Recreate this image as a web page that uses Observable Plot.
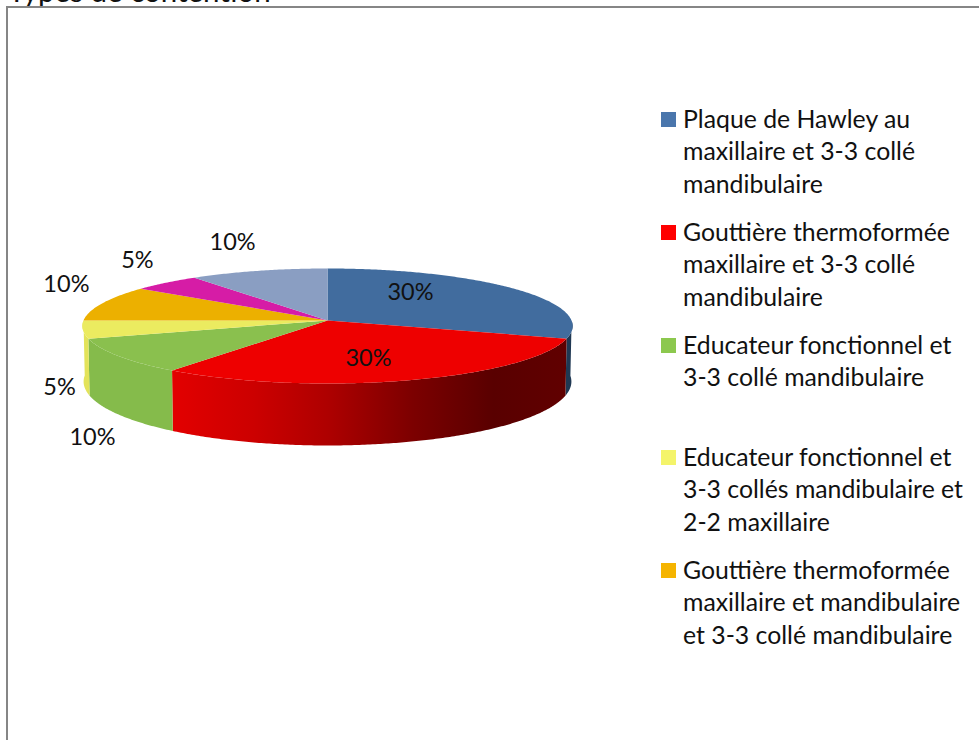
<!DOCTYPE html>
<html lang="fr">
<head>
<meta charset="utf-8">
<script src="https://cdn.jsdelivr.net/npm/d3@7"></script>
<script src="https://cdn.jsdelivr.net/npm/@observablehq/plot@0.6"></script>
<style>
  html, body { margin: 0; padding: 0; background: #fff; overflow: hidden; }
  #page { position: relative; width: 979px; height: 740px; overflow: hidden; font-family: Lato, "Open Sans", sans-serif; color: #111; }
  #chart { position: absolute; left: 0; top: 0; }
  #chart svg { display: block; background: transparent; }
  #frame { position: absolute; left: 6px; top: 6px; width: 1000px; height: 800px; border: 2px solid #868686; }
  #title { position: absolute; left: 8px; top: -26.5px; font-size: 29.5px; line-height: 34px; white-space: nowrap; }
  #legend { position: absolute; left: 0; top: 0; }
  .item { position: absolute; left: 661px; }
  .sw { position: absolute; left: 0; top: 9px; width: 15px; height: 15px; }
  .tx { position: absolute; left: 22px; top: 1px; font-size: 24.8px; line-height: 32.3px; white-space: pre; }
</style>
</head>
<body>
<div id="page">
  <div id="title">Types de contention</div>
  <div id="frame"></div>
  <div id="chart"></div>
  <div id="legend"></div>
</div>
<script>
// ---- data ----
const values = [30, 30, 10, 5, 10, 5, 10];
const percentLabels = ["30%", "30%", "10%", "5%", "10%", "5%", "10%"];
const legendLines = [
  ["Plaque de Hawley au", "maxillaire et 3-3 collé", "mandibulaire"],
  ["Gouttière thermoformée", "maxillaire et 3-3 collé", "mandibulaire"],
  ["Educateur fonctionnel et", "3-3 collé mandibulaire"],
  ["Educateur fonctionnel et", "3-3 collés mandibulaire et", "2-2 maxillaire"],
  ["Gouttière thermoformée", "maxillaire et mandibulaire", "et 3-3 collé mandibulaire"]
];

// ---- styles ----
const topColors = ["#416c9e", "#ee0000", "#8ac04e", "#ebeb60", "#ecb000", "#d61ca6", "#8a9ec2"];
const legendColors = ["#4a76ac", "#ff0000", "#8cc84e", "#f4f46a", "#f5b400"];
const sideColors = ["#1f3853", "url(#redSide)", "#85bb4b", "#e3e35a", "#ecb000", "#d61ca6", "#8a9ec2"];
const redStopsU = [-0.66, -0.3, 0, 0.35, 0.68, 1];
const redStopsColor = ["#e40000", "#cc0000", "#ae0000", "#7c0000", "#590000", "#610000"];
// label anchors in pie units
const labelU = [0.34, 0.168, -0.963, -1.098, -1.07, -0.779, -0.389];
const labelV = [0.49, -0.667, -2.05, -1.175, 0.63, 1.05, 1.37];

// ---- pie geometry (perspective disc extruded downwards) ----
const persp = 0.0957, depth = 0.965, lowerScale = 1.11, lowerX = 0.995;
const total = d3.sum(values);
const ends = d3.cumsum(values);
const projTop = t => {
  const u = Math.sin(t), v = Math.cos(t), d = 1 + persp * v;
  return {x: u / d, y: v / d};
};
const projBottom = t => {
  const p = projTop(t);
  return {x: p.x * lowerX, y: -depth + (p.y < 0 ? p.y * lowerScale : p.y)};
};

const topRows = [], sideRows = values.map(() => []);
values.forEach((val, i) => {
  const a0 = (ends[i] - val) / total * 2 * Math.PI, a1 = ends[i] / total * 2 * Math.PI;
  const n = Math.ceil((a1 - a0) / 0.01);
  const angles = d3.range(n + 1).map(k => a0 + (a1 - a0) * k / n);
  topRows.push({x: 0, y: 0, slice: i});
  angles.forEach(t => topRows.push({...projTop(t), slice: i}));
  const front = angles.filter(t => Math.cos(t) <= 0);
  if (front.length > 1)
    sideRows[i] = [...front.map(projTop), ...front.slice().reverse().map(projBottom)];
});
const labelRows = percentLabels.map((text, i) => ({text, x: labelU[i], y: labelV[i]}));

const chart = Plot.plot({
  width: 979, height: 740,
  margin: 0,
  style: {background: "transparent"},
  x: {axis: null, domain: [-1, 1], range: [83, 571]},
  y: {axis: null, domain: [-1, 1], range: [377, 263]},
  marks: [
    sideRows.map((rows, i) => Plot.line(rows, {x: "x", y: "y", fill: sideColors[i], stroke: "none", curve: "linear"})),
    Plot.line(topRows, {x: "x", y: "y", z: "slice", fill: d => topColors[d.slice], stroke: "none", curve: "linear"}),
    Plot.text(labelRows, {x: "x", y: "y", text: "text", fontSize: 23.5, fontFamily: "Lato, sans-serif", fill: "#111"})
  ]
});
// horizontal shading of the red wall, placed through the chart's x scale
const xScale = chart.scale("x");
const defs = d3.select(chart).insert("defs", ":first-child");
const grad = defs.append("linearGradient").attr("id", "redSide").attr("gradientUnits", "userSpaceOnUse")
  .attr("x1", xScale.apply(redStopsU[0])).attr("x2", xScale.apply(redStopsU[redStopsU.length - 1]))
  .attr("y1", 0).attr("y2", 0);
redStopsU.forEach((u, i) => grad.append("stop")
  .attr("offset", (u - redStopsU[0]) / (redStopsU[redStopsU.length - 1] - redStopsU[0]))
  .attr("stop-color", redStopsColor[i]));
document.getElementById("chart").appendChild(chart);

// ---- legend ----
const legendTops = [102, 215, 328, 440, 553];
const legend = d3.select("#legend");
legendLines.forEach((lines, i) => {
  const item = legend.append("div").attr("class", "item").style("top", legendTops[i] + "px");
  item.append("div").attr("class", "sw").style("background", legendColors[i]).style("top", "10px");
  item.append("div").attr("class", "tx").text(lines.join("\n"));
});
</script>
</body>
</html>
